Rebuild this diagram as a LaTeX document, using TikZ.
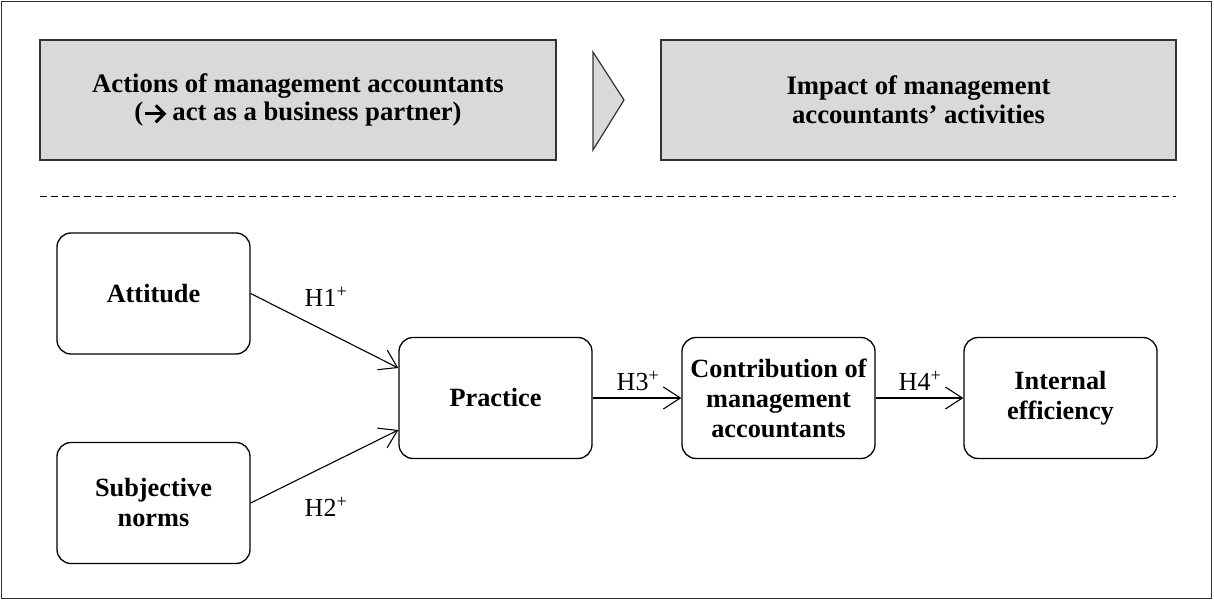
\documentclass[tikz,border=0pt]{standalone}
\usepackage{fontspec}
\setmainfont{Liberation Serif}
\usetikzlibrary{arrows.meta}

\newcommand{\boldarrow}{\tikz[baseline=0pt,x=1pt,y=1pt,line width=3pt]{\draw (0,7)--(18,7); \draw[line join=miter] (11,-1.5)--(19.5,7)--(11,15.5);}}

\tikzset{
	factor/.style={draw, rounded corners=14pt, line width=1.3pt, minimum width=193pt, minimum height=121pt, inner sep=0pt, align=center, font=\fontsize{26.3}{30}\selectfont\bfseries},
	stage/.style={draw=black!80, fill=black!15, line width=1.4pt, minimum width=516pt, minimum height=120pt, inner sep=0pt, align=center, font=\fontsize{26.7}{28.5}\selectfont\bfseries},
	hyp/.style={font=\fontsize{26}{30}\selectfont, inner sep=0pt},
	effect/.style={-{Straight Barb[length=17pt,width=22pt]}, line width=1.1pt}
}

\begin{document}
\begin{tikzpicture}[x=1pt,y=-1pt]
		\useasboundingbox (0,0) rectangle (1214,601);
		\draw[black!80, line width=1pt] (1.5,1.5) rectangle (1211.5,598.5);
		
		\node[stage] (S1) at (298,100) {Actions of management accountants\\(\boldarrow\ act as a business partner)};
		\node[stage, minimum width=515pt] (S2) at (918.5,100) {Impact of management\\accountants' activities};
		\draw[draw=black!80, fill=black!15, line width=1.2pt] (593,52) -- (624,100) -- (593,150) -- cycle;
		
		\draw[dash pattern=on 7pt off 4pt, line width=1pt] (40,197) -- (1176,197);
		
		\node[factor] (A) at (153.5,293.5) {Attitude};
		\node[factor] (S) at (153.5,503) {Subjective\\norms};
		\node[factor] (P) at (495.5,398) {Practice};
		\node[factor] (C) at (778.5,398) {Contribution of\\management\\accountants};
		\node[factor] (E) at (1060.5,398) {Internal\\efficiency};
		
		\draw[effect] (A.east) -- ([yshift=30pt]P.west);
		\draw[effect] (S.east) -- ([yshift=-32pt]P.west);
		\draw[effect] (P) -- (C);
		\draw[effect] (C) -- (E);
		
		\node[hyp] (H1) at (326,297) {H1\textsuperscript{+}};
		\node[hyp] (H2) at (326,507) {H2\textsuperscript{+}};
		\node[hyp] (H3) at (638,381) {H3\textsuperscript{+}};
		\node[hyp] (H4) at (920,381) {H4\textsuperscript{+}};
\end{tikzpicture}
\end{document}
